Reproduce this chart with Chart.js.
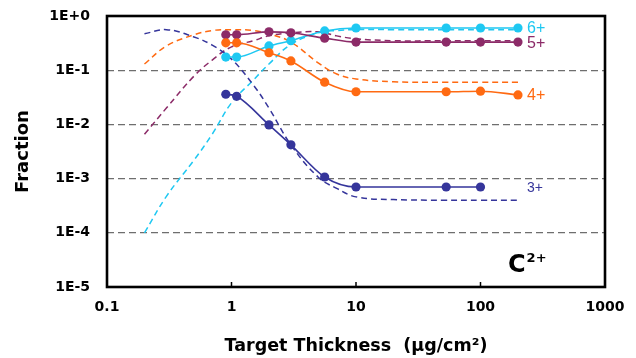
<!DOCTYPE html>
<html><head><meta charset="utf-8">
<script src="https://cdn.jsdelivr.net/npm/chart.js@4.4.1/dist/chart.umd.min.js"></script>
<style>html,body{margin:0;padding:0;background:#fff;}canvas{display:block;}</style>
</head><body>
<canvas id="c" width="636" height="358"></canvas>
<script>
// ---- data ----
const expThickness = [0.9, 1.1, 2, 3, 5.6, 10, 53, 100, 200];
const exp3 = [0.036, 0.033, 0.0098, 0.0042, 0.00107, 0.0007, 0.0007, 0.0007, null];
const exp4 = [0.32, 0.32, 0.21, 0.148, 0.06, 0.04, 0.04, 0.041, 0.035];
const exp5 = [0.45, 0.45, 0.51, 0.49, 0.39, 0.33, 0.33, 0.33, 0.33];
const exp6 = [0.175, 0.175, 0.28, 0.35, 0.53, 0.6, 0.6, 0.6, 0.6];

const theoryThickness = [0.2, 0.3, 0.5, 0.7, 1, 1.5, 2, 3, 5, 7, 10, 20, 50, 100, 200];
const theory3 = [0.47, 0.56, 0.41, 0.29, 0.16, 0.053, 0.020, 0.0042, 0.00105, 0.00066, 0.00046, 0.00041, 0.0004, 0.0004, 0.0004];
const theory4 = [0.13, 0.28, 0.45, 0.54, 0.56, 0.54, 0.47, 0.33, 0.135, 0.085, 0.069, 0.061, 0.06, 0.06, 0.06];
const theory5 = [0.0066, 0.020, 0.078, 0.154, 0.27, 0.35, 0.43, 0.49, 0.51, 0.43, 0.38, 0.35, 0.35, 0.35, 0.35];
const theory6 = [0.0001, 0.00047, 0.0022, 0.0066, 0.025, 0.066, 0.13, 0.30, 0.49, 0.54, 0.56, 0.56, 0.56, 0.56, 0.56];

const chargeLabels = ['3+', '4+', '5+', '6+'];
const yTickValues = [1e-5, 1e-4, 1e-3, 1e-2, 1e-1, 1];
const yTickLabels = ['1E-5', '1E-4', '1E-3', '1E-2', '1E-1', '1E+0'];
const xTickValues = [0.1, 1, 10, 100, 1000];
const xTickLabels = ['0.1', '1', '10', '100', '1000'];

// ---- styling ----
const colors = ['#35359b', '#ff6a12', '#8c2b68', '#1ec8f2'];
const expSeries = [exp3, exp4, exp5, exp6];
const theorySeries = [theory3, theory4, theory5, theory6];

function toPoints(xs, ys) {
  const out = [];
  xs.forEach((x, i) => { if (ys[i] !== null && ys[i] !== undefined) out.push({x: x, y: ys[i]}); });
  return out;
}

const datasets = [];
expSeries.forEach((s, i) => {
  datasets.push({
    label: chargeLabels[i] + ' exp',
    data: toPoints(expThickness, s),
    borderColor: colors[i],
    backgroundColor: colors[i],
    borderWidth: 1.6,
    pointRadius: 4.6,
    pointBorderWidth: 0,
    pointBackgroundColor: colors[i],
    cubicInterpolationMode: 'monotone',
    fill: false
  });
});
theorySeries.forEach((s, i) => {
  datasets.push({
    label: chargeLabels[i] + ' theory',
    data: toPoints(theoryThickness, s),
    borderColor: colors[i],
    borderWidth: 1.5,
    borderDash: [6, 4],
    pointRadius: 0,
    tension: 0.4,
    fill: false
  });
});

const framePlugin = {
  id: 'frame',
  afterDatasetsDraw(chart) {
    const {ctx, chartArea: a, scales: {x}} = chart;
    ctx.save();
    ctx.strokeStyle = '#000';
    ctx.lineWidth = 1.5;
    [1, 10, 100].forEach(v => {
      const px = x.getPixelForValue(v);
      ctx.beginPath(); ctx.moveTo(px, a.bottom); ctx.lineTo(px, a.bottom - 5); ctx.stroke();
    });
    ctx.lineWidth = 2.6;
    ctx.strokeRect(a.left, a.top, a.right - a.left, a.bottom - a.top);
    ctx.restore();
  }
};

const labelPlugin = {
  id: 'seriesLabels',
  afterDatasetsDraw(chart) {
    const {ctx, chartArea: a, scales: {x, y}} = chart;
    ctx.save();
    const lx = x.getPixelForValue(expThickness[expThickness.length - 1]) + 9;
    expSeries.forEach((s, i) => {
      const vals = s.filter(v => v !== null);
      const py = y.getPixelForValue(vals[vals.length - 1]);
      ctx.fillStyle = colors[i];
      ctx.font = (i === 0 ? '14px' : '16px') + ' "Liberation Sans", Arial, sans-serif';
      ctx.textAlign = 'left';
      ctx.textBaseline = 'middle';
      ctx.fillText(chargeLabels[i], lx, py + 1);
    });
    // ion annotation
    ctx.fillStyle = '#000';
    ctx.textBaseline = 'alphabetic';
    ctx.font = 'bold 24px "DejaVu Sans", sans-serif';
    const cx = a.right - 97, cy = a.bottom - 15;
    ctx.fillText('C', cx, cy);
    const w = ctx.measureText('C').width;
    ctx.font = 'bold 13px "DejaVu Sans", sans-serif';
    ctx.fillText('2+', cx + w + 1, cy - 10);
    ctx.restore();
  }
};

Chart.defaults.font.family = '"DejaVu Sans", sans-serif';
Chart.defaults.color = '#000';

new Chart(document.getElementById('c'), {
  type: 'line',
  data: {datasets: datasets},
  options: {
    responsive: false,
    animation: false,
    layout: {padding: {left: 0, right: 31, top: 16, bottom: 0}},
    plugins: {legend: {display: false}, tooltip: {enabled: false}},
    scales: {
      x: {
        type: 'logarithmic',
        min: 0.1, max: 1000,
        afterBuildTicks: s => { s.ticks = xTickValues.map(v => ({value: v})); },
        afterFit: s => { s.height = 71; s.paddingLeft = 0; s.paddingRight = 0; },
        ticks: {
          callback: (v, i) => xTickLabels[i],
          font: {size: 14, weight: 'bold'},
          padding: 12,
          maxRotation: 0, autoSkip: false
        },
        grid: {display: false, drawTicks: false},
        border: {display: false},
        title: {
          display: true,
          text: 'Target Thickness  (\u03bcg/cm\u00b2)',
          font: {size: 17.5, weight: 'bold'},
          padding: {top: 0, bottom: 1}
        }
      },
      y: {
        type: 'logarithmic',
        min: 1e-5, max: 1,
        afterBuildTicks: s => { s.ticks = yTickValues.map(v => ({value: v})); },
        afterFit: s => { s.width = 107; s.paddingTop = 0; s.paddingBottom = 0; },
        ticks: {
          callback: (v, i) => yTickLabels[i],
          font: {size: 14, weight: 'bold'},
          padding: 17,
          autoSkip: false
        },
        grid: {
          drawTicks: false,
          color: '#6e6e6e',
          lineWidth: 1.2
        },
        border: {display: false, dash: [7, 4]},
        title: {
          display: true,
          text: 'Fraction',
          font: {size: 18, weight: 'bold'},
          padding: {top: 13, bottom: 0}
        }
      }
    }
  },
  plugins: [framePlugin, labelPlugin]
});
</script>
</body></html>
